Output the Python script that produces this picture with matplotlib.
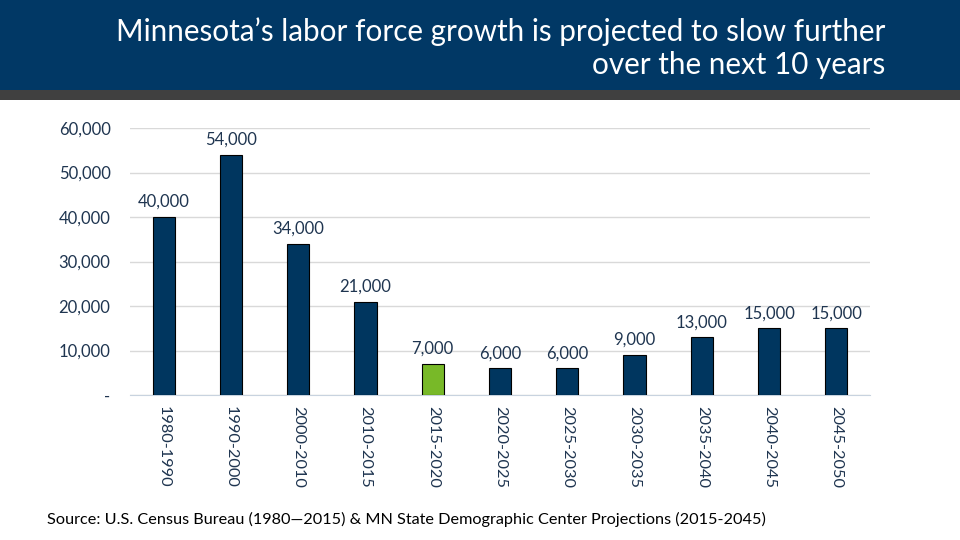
import matplotlib.pyplot as plt
from matplotlib.patches import Rectangle
from matplotlib.ticker import FuncFormatter

periods = ["1980-1990", "1990-2000", "2000-2010", "2010-2015", "2015-2020", "2020-2025",
           "2025-2030", "2030-2035", "2035-2040", "2040-2045", "2045-2050"]
growth = [40000, 54000, 34000, 21000, 7000, 6000, 6000, 9000, 13000, 15000, 15000]
highlight = "2015-2020"

navy = "#00365f"
green = "#78b928"
text_col = "#1f3550"

plt.rcParams['font.family'] = ['Lato', 'DejaVu Sans']

fig = plt.figure(figsize=(9.6, 5.4), dpi=100)

# header band
fig.patches.append(Rectangle((0, 1 - 90 / 540), 1, 90 / 540, transform=fig.transFigure,
                             facecolor="#013865", edgecolor="none", zorder=0))
fig.patches.append(Rectangle((0, 1 - 100 / 540), 1, 10 / 540, transform=fig.transFigure,
                             facecolor="#404040", edgecolor="none", zorder=0))
fig.text(885 / 960, 1 - 48 / 540,
         "Minnesota\u2019s labor force growth is projected to slow further\nover the next 10 years",
         ha="right", va="center", color="white", fontsize=21.3, linespacing=1.2)

ax = fig.add_axes([130 / 960, 1 - 395 / 540, 740 / 960, 267 / 540])

x = range(len(periods))
colors = [green if p == highlight else navy for p in periods]
bars = ax.bar(x, growth, width=0.33, color=colors, edgecolor="black", linewidth=0.8, zorder=3)

for xi, v in zip(x, growth):
    ax.annotate(f"{v:,}", (xi, v), xytext=(0, 5), textcoords="offset points",
                ha="center", va="bottom", fontsize=12, color=text_col)

ax.set_xlim(-0.5, len(periods) - 0.5)
ax.set_ylim(0, 60000)
ax.set_yticks(range(0, 60001, 10000))
ax.yaxis.set_major_formatter(FuncFormatter(lambda v, p: "-" if v == 0 else f"{int(v):,}"))
ax.set_xticks(list(x))
ax.set_xticklabels(periods, rotation=270, fontsize=11.8, color=text_col)
ax.tick_params(axis="y", length=0, pad=14, labelsize=12, labelcolor=text_col)
ax.tick_params(axis="x", length=0, pad=8)
ax.grid(axis="y", color="#d9d9d9", linewidth=1, zorder=0)
for s in ["top", "right", "left"]:
    ax.spines[s].set_visible(False)
ax.spines["bottom"].set_color("#c8d3df")

fig.text(47 / 960, 1 - 519 / 540,
         "Source: U.S. Census Bureau (1980\u20142015) & MN State Demographic Center Projections (2015-2045)",
         ha="left", va="center", fontsize=11.7, color="black")

fig.savefig("out.png", dpi=100)
